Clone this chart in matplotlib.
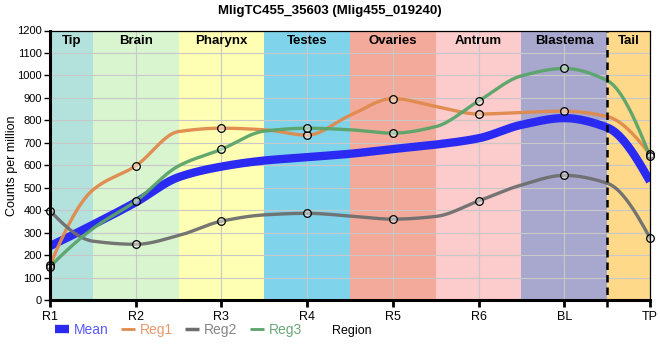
import numpy as np
import matplotlib
matplotlib.use("Agg")
import matplotlib.pyplot as plt
from matplotlib.lines import Line2D

plt.rcParams['font.family'] = ['Liberation Sans', 'DejaVu Sans']

# categories along the body
regions = ['R1', 'R2', 'R3', 'R4', 'R5', 'R6', 'BL', 'TP']
bands = ['Tip', 'Brain', 'Pharynx', 'Testes', 'Ovaries', 'Antrum', 'Blastema', 'Tail']
band_colors = ['#b3e2dd', '#d9f5d0', '#ffffb3', '#7fd4ec', '#f4aa9b', '#fccbcb', '#a8a8ce', '#fed98a']

# values at each region (circles)
reg1 = [155, 597, 765, 734, 897, 828, 841, 649]
reg2 = [397, 248, 351, 386, 360, 441, 555, 276]
reg3 = [148, 440, 671, 765, 743, 886, 1031, 640]
mean = [240, 435, 594, 636, 672, 720, 810, 528]

# curve values read at the region borders (0.5, 1.5, ...)
reg1_mid = [490, 750, 758, 822, 862, 835, 817]
reg2_mid = [262, 287, 379, 374, 372, 512, 520]
reg3_mid = [318, 597, 752, 758, 772, 998, 977]
mean_mid = [335, 547, 621, 651, 692, 780, 768]


def pchip(x, y, xs):
    x = np.asarray(x, float)
    y = np.asarray(y, float)
    h = np.diff(x)
    d = np.diff(y) / h
    m = np.zeros_like(y)
    for k in range(1, len(x) - 1):
        if d[k - 1] * d[k] > 0:
            w1 = 2 * h[k] + h[k - 1]
            w2 = h[k] + 2 * h[k - 1]
            m[k] = (w1 + w2) / (w1 / d[k - 1] + w2 / d[k])
    # three-point end slopes
    for e, (h0, h1, d0, d1) in [(0, (h[0], h[1], d[0], d[1])), (-1, (h[-1], h[-2], d[-1], d[-2]))]:
        s = ((2 * h0 + h1) * d0 - h0 * d1) / (h0 + h1)
        if np.sign(s) != np.sign(d0):
            s = 0
        elif np.sign(d0) != np.sign(d1) and abs(s) > abs(3 * d0):
            s = 3 * d0
        m[e] = s
    idx = np.clip(np.searchsorted(x, xs) - 1, 0, len(x) - 2)
    t = (xs - x[idx]) / h[idx]
    h00 = 2 * t**3 - 3 * t**2 + 1
    h10 = t**3 - 2 * t**2 + t
    h01 = -2 * t**3 + 3 * t**2
    h11 = t**3 - t**2
    return h00 * y[idx] + h10 * h[idx] * m[idx] + h01 * y[idx + 1] + h11 * h[idx] * m[idx + 1]


def curve(vals, mids):
    xs = []
    ys = []
    for i, v in enumerate(vals):
        xs.append(i)
        ys.append(v)
        if i < len(mids):
            xs.append(i + 0.5)
            ys.append(mids[i])
    xf = np.linspace(0, len(vals) - 1, 600)
    return xf, pchip(xs, ys, xf)


pos = np.arange(len(regions))

fig = plt.figure(figsize=(6.6, 3.6), dpi=100)
ax = fig.add_axes([50 / 660, 1 - 300 / 360, 600 / 660, 269.5 / 360])

# coloured bands
edges = [0, 0.5, 1.5, 2.5, 3.5, 4.5, 5.5, 6.5, 7]
for i, name in enumerate(bands):
    ax.axvspan(edges[i], edges[i + 1], color=band_colors[i], lw=0, zorder=0)
    ax.text((edges[i] + edges[i + 1]) / 2, 1155, name, ha='center', va='center',
            fontsize=9.5, fontweight='bold', zorder=5)

ax.set_xlim(0, 7)
ax.set_ylim(0, 1200)
ax.set_yticks(range(0, 1201, 100))
ax.set_xticks(pos)
ax.set_xticklabels(regions, fontsize=9)
ax.tick_params(axis='y', labelsize=8, length=4, width=1, pad=2)
ax.tick_params(axis='x', length=5, width=2, pad=3)
ax.grid(True, color='#c8c8c8', lw=0.8, zorder=1)
ax.set_axisbelow(False)
for gl in ax.get_xgridlines() + ax.get_ygridlines():
    gl.set_zorder(1)

ax.plot([6.5, 6.5], [-30, 1200], color='black', lw=1.8, ls=(0, (3, 2)), clip_on=False, zorder=6)

c_mean = '#2a2af2'
c_reg1 = '#e08a4c'
c_reg2 = '#6e6e6e'
c_reg3 = '#5aa46a'

x, y = curve(mean, mean_mid)
ax.plot(x, y, color=c_mean, lw=6, solid_capstyle='butt', zorder=3)
for vals, mids, col in [(reg1, reg1_mid, c_reg1), (reg2, reg2_mid, c_reg2), (reg3, reg3_mid, c_reg3)]:
    x, y = curve(vals, mids)
    ax.plot(x, y, color=col, lw=2.4, zorder=3, alpha=0.95)
for vals in [reg1, reg2, reg3]:
    ax.plot(pos, vals, ls='none', marker='o', ms=5.5, mfc=(1, 1, 1, 0.45), mec='black',
            mew=0.9, zorder=7, clip_on=False)

for side in ['left', 'bottom']:
    ax.spines[side].set_linewidth(2.2)
for side in ['top', 'right']:
    ax.spines[side].set_linewidth(0.9)
for s in ax.spines.values():
    s.set_zorder(8)

fig.text(12 / 660, 1 - 166 / 360, 'Counts per million', rotation=90, ha='center', va='center', fontsize=9)
fig.suptitle('MligTC455_35603 (Mlig455_019240)', x=0.5, y=0.985, fontsize=9.5, fontweight='bold')
fig.text(352 / 660, 1 - 331 / 360, 'Region', ha='center', va='center', fontsize=9)

handles = [Line2D([], [], color=c_mean, lw=6, solid_capstyle='butt'),
           Line2D([], [], color=c_reg1, lw=2, solid_capstyle='butt'),
           Line2D([], [], color=c_reg2, lw=2.5, solid_capstyle='butt'),
           Line2D([], [], color=c_reg3, lw=2, solid_capstyle='butt')]
leg = fig.legend(handles, ['Mean', 'Reg1', 'Reg2', 'Reg3'], loc='center left',
                 bbox_to_anchor=(55 / 660, 1 - 330 / 360), ncol=4, frameon=False,
                 fontsize=10, handlelength=1.0, handletextpad=0.35, columnspacing=0.9,
                 borderpad=0, borderaxespad=0)
for txt, col in zip(leg.get_texts(), ['#5a5aff', '#e8996a', '#858585', '#6aa878']):
    txt.set_color(col)

fig.savefig('out.png', dpi=100)
